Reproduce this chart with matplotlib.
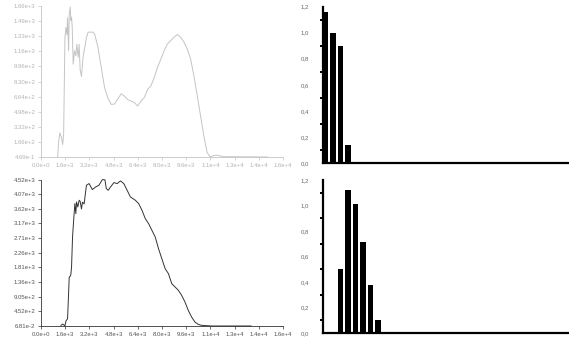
import matplotlib
matplotlib.use("Agg")
import matplotlib.pyplot as plt
import numpy as np

plt.rcParams['font.family'] = ['Liberation Sans', 'DejaVu Sans']

# top-left line (faded)
top_x = [1104, 1170, 1257, 1366, 1432, 1498, 1585, 1650, 1716, 1760, 1826, 1869, 1935, 1978, 2022,
         2066, 2131, 2219, 2306, 2372, 2459, 2525, 2590, 2678, 2787, 2896, 3006, 3115, 3443,
         3553, 3771, 3990, 4209, 4427, 4646, 4865, 5083, 5302, 5521, 5739, 5958, 6176, 6395,
         6614, 6832, 7051, 7270, 7488, 7707, 7926, 8144, 8363, 8582, 8800, 9019, 9238, 9456,
         9675, 9894, 10112, 10331, 10550, 10768, 10987, 11206, 11424, 11643, 12081, 15000]
top_y = [0, 173, 266, 210, 136, 247, 1315, 1424, 1343, 1532, 1170, 1576, 1650, 1502, 1539,
         1428, 1022, 1170, 1114, 1240, 1096, 1240, 960, 886, 1107, 1207, 1314, 1373, 1373,
         1351, 1203, 981, 760, 649, 579, 583, 640, 695, 670, 631, 616, 598, 561, 616, 653,
         745, 782, 874, 985, 1077, 1170, 1244, 1281, 1318, 1347, 1318, 1262, 1188, 1077, 893,
         675, 454, 232, 48, 0, 18, 20, 4, 0]

# bottom-left line
bot_x = [1322, 1432, 1520, 1585, 1650, 1760, 1869, 1935, 1978, 2022, 2088, 2153, 2241, 2306,
         2350, 2437, 2525, 2590, 2678, 2743, 2853, 3006, 3181, 3399, 3618, 3837, 4055, 4230,
         4318, 4449, 4602, 4821, 5040, 5258, 5477, 5696, 5914, 6241, 6460, 6678, 6897, 7115,
         7334, 7553, 7771, 7990, 8209, 8427, 8646, 8864, 9083, 9302, 9520, 9739, 9958, 10176,
         10395, 10613, 11269, 12581, 13892]
bot_y = [20, 60, 30, 0, 150, 227, 1514, 1535, 1596, 1823, 2750, 3213, 3780, 3470, 3830, 3676,
         3882, 3852, 3614, 3822, 3770, 4346, 4398, 4212, 4294, 4346, 4520, 4515, 4243, 4191,
         4294, 4428, 4398, 4480, 4398, 4191, 3985, 3882, 3780, 3574, 3316, 3162, 2956, 2750,
         2389, 2080, 1771, 1617, 1308, 1205, 1102, 947, 741, 484, 278, 124, 51, 21, 0, 0, 0]

x_ticklabels = ['0.0e+0', '1.6e+3', '3.2e+3', '4.8e+3', '6.4e+3', '8.0e+3', '9.6e+3',
                '1.1e+4', '1.3e+4', '1.4e+4', '1.6e+4']
top_yticklabels = ['4.69e-1', '1.66e+2', '3.32e+2', '4.98e+2', '6.64e+2', '8.30e+2',
                   '9.96e+2', '1.16e+3', '1.33e+3', '1.49e+3', '1.66e+3']
bot_yticklabels = ['6.81e-2', '4.52e+2', '9.05e+2', '1.36e+3', '1.81e+3', '2.26e+3',
                   '2.71e+3', '3.17e+3', '3.62e+3', '4.07e+3', '4.52e+3']

# right bar charts
n_bins = 33
top_bars = [1.16, 1.0, 0.895, 0.135] + [0] * (n_bins - 4)
bot_bars = [0, 0, 0.50, 1.125, 1.015, 0.715, 0.375, 0.105] + [0] * (n_bins - 8)
bar_yticklabels = ['0,0', '0,2', '0,4', '0,6', '0,8', '1,0', '1,2']

fig = plt.figure(figsize=(5.69, 3.43), dpi=100)

def line_panel(rect, xs, ys, ylabels, ymin, ymax, col, txtcol):
    ax = fig.add_axes(rect)
    ax.plot(xs, ys, color=col, lw=0.7, clip_on=False)
    ax.set_xlim(0, 16000)
    ax.set_ylim(ymin, ymax)
    ax.set_xticks(np.linspace(0, 16000, 11))
    ax.set_xticklabels(x_ticklabels)
    ax.set_yticks(np.linspace(ymin, ymax, 11))
    ax.set_yticklabels(ylabels)
    for s in ['top', 'right']:
        ax.spines[s].set_visible(False)
    for s in ['left', 'bottom']:
        ax.spines[s].set_color(col)
        ax.spines[s].set_linewidth(0.6)
    ax.tick_params(length=2.5, width=0.5, color=col, labelsize=4.3, labelcolor=txtcol, pad=1.5)
    ax.patch.set_alpha(0)
    return ax

line_panel([0.072, 0.5423, 0.4253, 0.440], top_x, top_y, top_yticklabels, 0.469, 1660,
           '#c4c4c4', '#b4b4b4')
line_panel([0.072, 0.0496, 0.4253, 0.427], bot_x, bot_y, bot_yticklabels, 0.0681, 4523,
           '#333333', '#555555')

def bar_panel(rect, vals):
    ax = fig.add_axes(rect)
    ax.bar(np.arange(n_bins), vals, width=0.72, align='edge', color='black')
    ax.set_xlim(0, n_bins)
    ax.set_ylim(0, 1.2)
    ax.set_xticks([])
    ax.set_yticks(np.linspace(0, 1.2, 7))
    ax.set_yticklabels(bar_yticklabels)
    ax.set_yticks(np.arange(0.1, 1.2, 0.2), minor=True)
    for s in ['top', 'right']:
        ax.spines[s].set_visible(False)
    for s in ['left', 'bottom']:
        ax.spines[s].set_linewidth(1.6)
    ax.tick_params(axis='y', which='major', length=0, labelsize=4.3, labelcolor='#666666', pad=10)
    ax.tick_params(axis='y', which='minor', length=2.5, width=1.4)
    return ax

bar_panel([0.5677, 0.5248, 0.4323, 0.456], top_bars)
bar_panel([0.5677, 0.029, 0.4323, 0.446], bot_bars)

fig.savefig('out.png', dpi=100)
